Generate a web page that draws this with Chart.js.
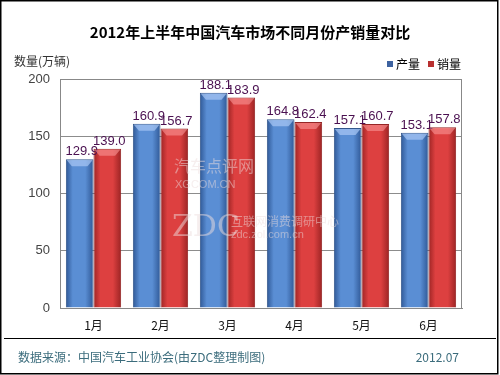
<!DOCTYPE html>
<html>
<head>
<meta charset="utf-8">
<script src="https://cdn.jsdelivr.net/npm/chart.js@4"></script>
<style>
	html, body { margin: 0; padding: 0; background: #fff; }
	#wrap { width: 500px; height: 375px; position: relative; }
</style>
</head>
<body>
<div id="wrap"><canvas id="chart" width="500" height="375"></canvas></div>
<script>
// 2012 H1 China auto production vs sales by month
const months = ['1月', '2月', '3月', '4月', '5月', '6月'];
const production = [129.9, 160.9, 188.1, 164.8, 157.1, 153.1];
const sales = [139.0, 156.7, 183.9, 162.4, 160.7, 157.8];
const yTicks = [0, 50, 100, 150, 200];

const CJK = '"Noto Sans CJK SC", "DejaVu Sans", sans-serif';
const NUM = '"Liberation Sans", "DejaVu Sans", sans-serif';
const CAT_PCT = 0.825;

// horizontal shading across each bar
function shade(dark, light, side) {
	return (ctx) => {
		const chart = ctx.chart, x = chart.scales.x;
		if (!x || ctx.dataIndex === undefined || !chart.chartArea) return light;
		const center = x.getPixelForValue(ctx.dataIndex),
			barW = x.width / months.length * CAT_PCT / 2,
			left = side === 0 ? center - barW : center,
			g = chart.ctx.createLinearGradient(left, 0, left + barW, 0);
		g.addColorStop(0, dark);
		g.addColorStop(0.25, light);
		g.addColorStop(0.7, light);
		g.addColorStop(1, dark);
		return g;
	};
}

const decor = {
	id: 'decor',
	afterDatasetsDraw(chart) {
		const c = chart.ctx;
		c.save();
		[0, 1].forEach((di) => {
			const meta = chart.getDatasetMeta(di),
				vals = chart.data.datasets[di].data;
			meta.data.forEach((bar, i) => {
				const w = bar.width, l = bar.x - w / 2, t = bar.y;
				// bevelled top cap
				c.fillStyle = di === 0 ? 'rgba(170,200,245,0.7)' : 'rgba(250,150,150,0.6)';
				c.beginPath();
				c.moveTo(l + 1, t + 1);
				c.lineTo(l + w - 1, t + 1);
				c.lineTo(l + w - 6, t + 7);
				c.lineTo(l + 6, t + 7);
				c.closePath();
				c.fill();
				// value label
				c.fillStyle = '#4a1050';
				c.font = '13px ' + NUM;
				c.textAlign = 'center';
				c.textBaseline = 'bottom';
				c.fillText(vals[i].toFixed(1), bar.x + 2, t - 1);
			});
		});
		// faint watermark over the bars
		c.fillStyle = 'rgba(238,222,222,0.5)';
		c.textAlign = 'left';
		c.textBaseline = 'alphabetic';
		c.font = '16px ' + CJK;
		c.fillText('汽车点评网', 174, 172);
		c.font = '11px ' + NUM;
		c.fillText('XGCOM.CN', 175, 188);
		c.font = '30px "DejaVu Serif", serif';
		c.fillText('ZDC', 172, 236);
		c.font = '12px ' + CJK;
		c.fillText('互联网消费调研中心', 231, 226);
		c.font = '11px ' + NUM;
		c.fillText('zdc.zol.com.cn', 231, 238);
		c.restore();
	},
	afterDraw(chart) {
		const c = chart.ctx;
		c.save();
		// title
		c.fillStyle = '#000';
		c.font = 'bold 15px ' + CJK;
		c.textAlign = 'center';
		c.textBaseline = 'middle';
		c.fillText('2012年上半年中国汽车市场不同月份产销量对比', 250, 32);
		// y axis unit
		c.font = '12px ' + CJK;
		c.fillStyle = '#333';
		c.textAlign = 'left';
		c.fillText('数量(万辆)', 14, 61);
		// legend
		c.fillStyle = '#3d62a0';
		c.fillRect(387, 61, 6, 6);
		c.fillStyle = '#b83030';
		c.fillRect(428, 61, 6, 6);
		c.fillStyle = '#000';
		c.font = '12px ' + CJK;
		c.fillText('产量', 396, 64);
		c.fillText('销量', 437, 64);
		// separator and footer
		c.strokeStyle = '#000';
		c.lineWidth = 1;
		c.beginPath();
		c.moveTo(4, 338.5);
		c.lineTo(496, 338.5);
		c.stroke();
		c.fillStyle = '#3b6c7c';
		c.font = '12px ' + CJK;
		c.fillText('数据来源：中国汽车工业协会(由ZDC整理制图)', 18, 357);
		c.textAlign = 'right';
		c.fillText('2012.07', 459, 357);
		// outer frame
		c.lineWidth = 1.5;
		c.strokeRect(0.75, 0.75, 497, 373);
		c.restore();
	}
};

new Chart(document.getElementById('chart'), {
	type: 'bar',
	data: {
		labels: months,
		datasets: [{
			label: '产量',
			data: production,
			backgroundColor: shade('#2f5896', '#5a8ed4', 0),
			borderColor: '#34578c',
			borderWidth: 1,
			borderSkipped: 'bottom'
		}, {
			label: '销量',
			data: sales,
			backgroundColor: shade('#9c2424', '#dd4040', 1),
			borderColor: '#962626',
			borderWidth: 1,
			borderSkipped: 'bottom'
		}]
	},
	options: {
		responsive: false,
		animation: false,
		events: [],
		categoryPercentage: CAT_PCT,
		barPercentage: 1,
		layout: {padding: {top: 79, left: 0, right: 38, bottom: 0}},
		plugins: {
			legend: {display: false},
			title: {display: false},
			tooltip: {enabled: false}
		},
		scales: {
			x: {
				afterFit: (s) => { s.height = 67; },
				grid: {display: false, drawTicks: false},
				border: {color: '#888'},
				ticks: {
					color: '#111',
					padding: 10,
					font: {size: 12, family: CJK}
				}
			},
			y: {
				min: 0,
				max: 200,
				afterFit: (s) => { s.width = 60; },
				afterBuildTicks: (s) => { s.ticks = yTicks.map((v) => ({value: v})); },
				grid: {color: '#8c8c8c', drawTicks: false},
				border: {color: '#888'},
				ticks: {
					color: '#444',
					padding: 10,
					font: {size: 13, family: NUM}
				}
			}
		}
	},
	plugins: [decor, {
		id: 'frameRight',
		afterDraw(chart) {
			const a = chart.chartArea, c = chart.ctx;
			c.save();
			c.strokeStyle = '#888';
			c.lineWidth = 1;
			c.strokeRect(a.left + 0.5, a.top + 0.5, a.right - a.left - 1, a.bottom - a.top);
			c.restore();
		}
	}]
});
</script>
</body>
</html>
